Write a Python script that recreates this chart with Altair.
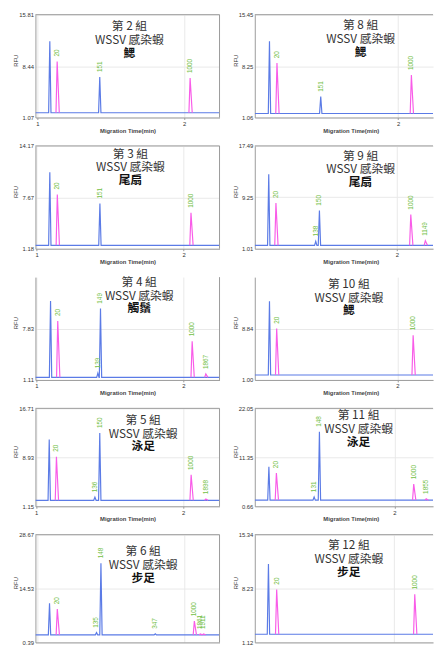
import altair as alt
import pandas as pd

# ---------------- data ----------------
GROUPS = ["第 2 組", "第 8 組", "第 3 組", "第 9 組", "第 4 組",
          "第 10 組", "第 5 組", "第 11 組", "第 6 組", "第 12 組"]
SUBTITLE = "WSSV 感染蝦"
TISSUES = ["鰓", "鰓", "尾扇", "尾扇", "觸鬚", "鰓", "泳足", "泳足", "步足", "步足"]

Y_MIN = [1.07, 1.06, 1.18, 1.01, 1.11, 1.00, 1.15, 0.66, 0.39, 1.12]
Y_MID = [8.44, 8.25, 7.67, 9.25, 7.83, 8.84, 8.93, 11.35, 14.53, 8.23]
Y_MAX = [15.81, 15.45, 14.17, 17.49, 14.55, 16.68, 16.71, 22.05, 28.67, 15.34]
SHOW_TOP = [True, True, True, True, False, False, True, True, True, True]
X_START = [0.987, 1.025, 0.991, 1.033, 0.993, 1.029, 0.995, 1.049, 0.989, 1.056]
X_TICKS = [1, 2]
BASELINE = [1.75, 1.62, 1.61, 1.55, 1.45, 1.76, 2.10, 2.00, 2.37, 2.20]

PEAK_X = [
    [1.085, 1.135, 1.425, 2.040],
    [1.125, 1.176, 1.474, 2.091],
    [1.089, 1.140, 1.430, 2.050],
    [1.128, 1.177, 1.448, 1.473, 2.095, 2.194],
    [1.096, 1.145, 1.418, 1.436, 2.060, 2.153],
    [1.129, 1.178, 2.107],
    [1.089, 1.138, 1.400, 1.433, 2.055, 2.155],
    [1.145, 1.196, 1.453, 1.489, 2.131, 2.216],
    [1.085, 1.138, 1.405, 1.435, 1.805, 2.071, 2.111, 2.133],
    [1.149, 1.205, 2.145],
]
PEAK_RFU = [
    [12.00, 9.10, 6.88, 6.74],
    [11.74, 8.67, 3.98, 7.02],
    [10.84, 8.03, 6.90, 5.73],
    [12.96, 8.34, 2.20, 7.13, 6.49, 2.30],
    [11.42, 8.82, 2.00, 10.44, 6.18, 1.90],
    [13.00, 8.83, 7.83],
    [11.75, 9.02, 2.60, 12.80, 6.15, 2.30],
    [9.28, 7.92, 2.68, 16.94, 5.50, 2.30],
    [10.67, 9.13, 2.96, 21.20, 2.67, 5.97, 2.60, 2.60],
    [11.46, 8.10, 7.46],
]
# b = sample trace (blue), p = size marker trace (pink)
PEAK_DYE = [
    ["b", "p", "b", "p"],
    ["b", "p", "b", "p"],
    ["b", "p", "b", "p"],
    ["b", "p", "b", "b", "p", "p"],
    ["b", "p", "b", "b", "p", "p"],
    ["b", "p", "p"],
    ["b", "p", "b", "b", "p", "p"],
    ["b", "p", "b", "b", "p", "p"],
    ["b", "p", "b", "b", "b", "p", "p", "p"],
    ["b", "p", "p"],
]
PEAK_LABEL = [
    ["", "20", "151", "1000"],
    ["", "20", "151", "1000"],
    ["", "20", "151", "1000"],
    ["", "20", "138", "150", "1000", "1149"],
    ["", "20", "139", "149", "1000", "1867"],
    ["", "20", "1000"],
    ["", "20", "136", "150", "1000", "1898"],
    ["", "20", "131", "148", "1000", "1855"],
    ["", "20", "135", "148", "347", "1000", "1861", "1911"],
    ["", "20", "1000"],
]

# ---------------- layout / style ----------------
COL_W = [188, 182]
ROW_H = [105, 105, 105, 100, 110]
PX_PER_MIN = 150
TITLE_X = [96, 108, 97, 108, 106, 96, 110, 106, 110, 96]
TITLE_Y = [12, 11, 8, 10, 5, 7, 12, 7, 17, 11]
HALF_W = 0.008
BLUE = "#5b7be6"
PINK = "#f95ce8"
GREEN = "#72c046"
FRAME = "#9a9a9a"
LATIN = "Liberation Sans"
CJK = "Noto Sans CJK TC"


def panel(i, row, col):
    W, H = COL_W[col], ROW_H[row]
    x0 = X_START[i]
    x1 = x0 + W / PX_PER_MIN
    base = BASELINE[i]

    rows = [{"x": x0, "y": base, "seg": "blue", "dye": "b"}]
    pink_k = 0
    for px, py, d in zip(PEAK_X[i], PEAK_RFU[i], PEAK_DYE[i]):
        if d == "b":
            rows += [{"x": px - HALF_W, "y": base, "seg": "blue", "dye": "b"},
                     {"x": px, "y": py, "seg": "blue", "dye": "b"},
                     {"x": px + HALF_W, "y": base, "seg": "blue", "dye": "b"}]
    rows.append({"x": x1, "y": base, "seg": "blue", "dye": "b"})
    for px, py, d in zip(PEAK_X[i], PEAK_RFU[i], PEAK_DYE[i]):
        if d == "p":
            s = f"p{pink_k}"
            pink_k += 1
            rows += [{"x": px - HALF_W, "y": base, "seg": s, "dye": "p"},
                     {"x": px, "y": py, "seg": s, "dye": "p"},
                     {"x": px + 1.8 * HALF_W, "y": base, "seg": s, "dye": "p"}]
    trace = pd.DataFrame(rows)
    trace["order"] = range(len(trace))

    labels = pd.DataFrame({"x": PEAK_X[i], "y": PEAK_RFU[i], "label": PEAK_LABEL[i]})
    labels = labels[labels["label"] != ""]

    xscale = alt.Scale(domain=[x0, x1], nice=False, zero=False)
    yscale = alt.Scale(domain=[Y_MIN[i], Y_MAX[i]], nice=False, zero=False)

    last = row == len(ROW_H) - 1
    xaxis_kw = dict(values=X_TICKS, format="d", grid=True, labelFlush=False,
                    labelFontSize=6, labelPadding=1, tickSize=2,
                    domainColor=FRAME, tickColor=FRAME, labelColor="#333")
    if last:
        xaxis_kw.update(labels=False, ticks=False, title="")
    else:
        xaxis_kw.update(title="Migration Time(min)", titleFontSize=6,
                        titleFontWeight="bold", titleColor="#444",
                        titlePadding=1, titleX=94 if col == 0 else 98)
    yvals = [Y_MIN[i], Y_MID[i]] + ([Y_MAX[i]] if SHOW_TOP[i] else [])
    yaxis = alt.Axis(values=yvals, format=".2f", grid=True, ticks=False,
                     labelFontSize=6, labelPadding=2, labelColor="#333",
                     domainColor=FRAME, title="RFU", titleFontSize=6,
                     titleFontWeight="normal", titleColor="#333",
                     titleX=-17, titleY=H / 2 - 6)

    xenc = alt.X("x:Q", scale=xscale, axis=alt.Axis(**xaxis_kw))
    yenc = alt.Y("y:Q", scale=yscale, axis=yaxis)

    lines = alt.Chart(trace).mark_line(strokeWidth=1.2, clip=True).encode(
        x=xenc, y=yenc, detail="seg:N", order="order:Q",
        color=alt.Color("dye:N", scale=alt.Scale(domain=["b", "p"], range=[BLUE, PINK]),
                        legend=None))

    txt = alt.Chart(labels).mark_text(
        angle=270, align="left", baseline="middle", dx=5, fontSize=6.5,
        color=GREEN, font=LATIN).encode(
        x=alt.X("x:Q", scale=xscale), y=alt.Y("y:Q", scale=yscale), text="label:N")

    one = pd.DataFrame({"a": [0]})
    t1 = alt.Chart(one).mark_text(font=CJK, fontSize=12, color="#333",
                                  baseline="middle", align="center", text=GROUPS[i]).encode(
        x=alt.value(TITLE_X[i]), y=alt.value(TITLE_Y[i]))
    t2 = alt.Chart(one).mark_text(font=CJK, fontSize=12, color="#333",
                                  baseline="middle", align="center", text=SUBTITLE).encode(
        x=alt.value(TITLE_X[i]), y=alt.value(TITLE_Y[i] + 14))
    t3 = alt.Chart(one).mark_text(font=CJK, fontSize=12, fontWeight="bold", color="#111",
                                  baseline="middle", align="center", text=TISSUES[i]).encode(
        x=alt.value(TITLE_X[i]), y=alt.value(TITLE_Y[i] + 27))

    layers = [lines, txt, t1, t2, t3]
    if col == 0:
        right = alt.Chart(one).mark_rule(color=FRAME, strokeWidth=1).encode(
            x=alt.value(W), y=alt.value(0), y2=alt.value(H))
        layers.append(right)
    if SHOW_TOP[i]:
        top = alt.Chart(one).mark_rule(color=FRAME, strokeWidth=1).encode(
            x=alt.value(0), x2=alt.value(W), y=alt.value(0))
        layers.append(top)
    return alt.layer(*layers).properties(width=W, height=H)


panels = []
for r in range(5):
    panels.append(panel(2 * r, r, 0))
    panels.append(panel(2 * r + 1, r, 1))

chart = alt.concat(*panels, columns=2, spacing={"row": 29, "column": 36},
                   bounds="flush").properties(
    padding={"left": 4, "top": -4, "right": 0, "bottom": 0}
).configure_view(stroke="transparent").configure_axis(
    gridColor="#e8e8e8", labelFont=LATIN, titleFont=LATIN)

chart.save("out.html", embed_options={"renderer": "svg", "actions": False})
